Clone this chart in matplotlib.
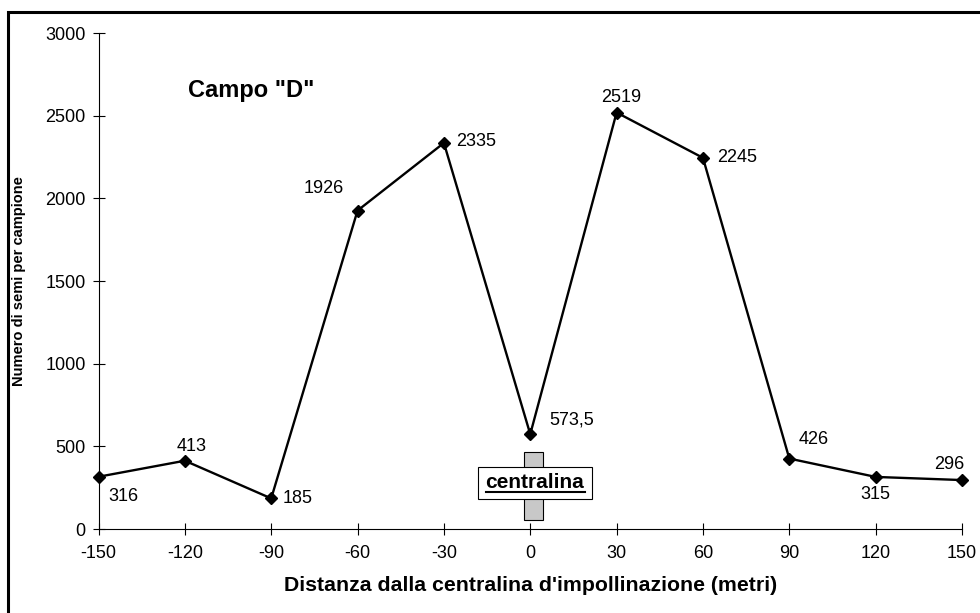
from matplotlib import pyplot as plt
from matplotlib.patches import Rectangle

plt.rcParams['font.family'] = ['Liberation Sans', 'DejaVu Sans']
plt.rcParams['axes.unicode_minus'] = False

distanza = [-150, -120, -90, -60, -30, 0, 30, 60, 90, 120, 150]
semi = [316, 413, 185, 1926, 2335, 573.5, 2519, 2245, 426, 315, 296]
etichette = ["316", "413", "185", "1926", "2335", "573,5", "2519", "2245", "426", "315", "296"]
# label offsets (points) and horizontal alignment for each value
offs = [(7, -14), (5, 10), (8.5, 0), (-10, 16), (8.5, 1), (14, 10), (3, 11), (10, 0), (6.5, 14), (0, -13), (2, 11.5)]
align = ['left', 'center', 'left', 'right', 'left', 'left', 'center', 'left', 'left', 'center', 'right']

fig = plt.figure(figsize=(9.8, 6.13), dpi=100)
ax = fig.add_axes([98.5 / 980, 84 / 613, 863.5 / 980, 496 / 613])

# outer frame
fig.patches.append(Rectangle((0.0077, -0.1), 1.2, 1.08, transform=fig.transFigure,
                             fill=False, lw=2.2, edgecolor='black'))

ax.plot(distanza, semi, 'k-D', lw=1.7, ms=6, clip_on=False, zorder=3)
for x, y, t, o, ha in zip(distanza, semi, etichette, offs, align):
    ax.annotate(t, (x, y), xytext=o, textcoords='offset points', ha=ha, va='center', fontsize=13)

ax.set_xlim(-150, 150)
ax.set_ylim(0, 3000)
ax.set_xticks(range(-150, 151, 30))
ax.set_yticks(range(0, 3001, 500))
ax.tick_params(direction='inout', length=8.5, width=0.8, labelsize=13)
ax.tick_params(axis='x', pad=7)
ax.tick_params(axis='y', pad=5)
for s in ['top', 'right']:
    ax.spines[s].set_visible(False)
for s in ['left', 'bottom']:
    ax.spines[s].set_linewidth(0.8)

ax.text(-119, 2613, 'Campo "D"', fontsize=17, fontweight='bold', va='baseline')
ax.set_xlabel("Distanza dalla centralina d'impollinazione (metri)", fontsize=15.3,
              fontweight='bold', labelpad=10)
ax.set_ylabel("Numero di semi per campione", fontsize=10.5, fontweight='bold', labelpad=14)

# centralina marker
ax.add_patch(Rectangle((-2, 54), 6.6, 412, facecolor='#c8c8c8', edgecolor='black', lw=0.8, zorder=2))
ax.add_patch(Rectangle((-18, 181), 39.5, 194, facecolor='white', edgecolor='black', lw=0.8, zorder=2))
ax.text(1.6, 282, 'centralina', ha='center', va='center', fontsize=15, fontweight='bold', zorder=4)
ax.plot([-15.3, 19], [224, 224], color='black', lw=1.5, zorder=4)

plt.savefig('out.png', dpi=100)
